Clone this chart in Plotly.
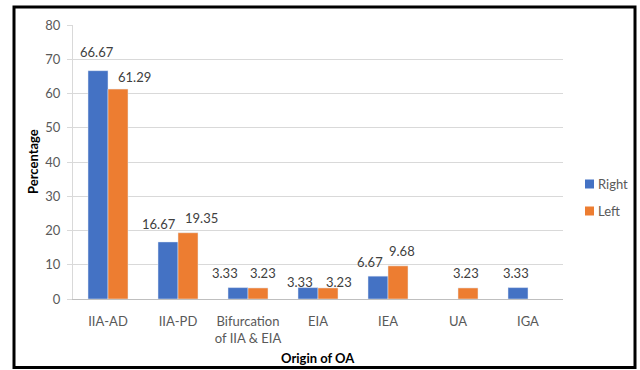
import plotly.graph_objects as go

# Origin of the obturator artery, percentage of specimens per side
categories = ["IIA-AD", "IIA-PD", "Bifurcation<br>of IIA & EIA", "EIA", "IEA", "UA", "IGA"]
right_pct = [66.67, 16.67, 3.33, 3.33, 6.67, None, 3.33]
left_pct = [61.29, 19.35, 3.23, 3.23, 9.68, 3.23, None]
y_ticks = [0, 10, 20, 30, 40, 50, 60, 70, 80]

BLUE = "#4472C4"
ORANGE = "#ED7D31"
TEXT = "#595959"
FONT = "Lato"

# layout geometry (pixels)
W, H = 640, 370
ML, MR, MT, MB = 73, 77, 25, 71
PW, PH = W - ML - MR, H - MT - MB


def px_x(p):
    return (p - ML) / PW


def px_y(p):
    return (MT + PH - p) / PH


# label nudges (pixels) so neighbouring value labels do not collide
right_nudge = [(-1, 19), (-9, 18), (-13, 15), (-8, 6), (-8, 14), (0, 15), (-2, 15)]
left_nudge = [(16, 12), (13, 15), (5, 15), (11, 6), (4, 15), (-2, 15), (0, 15)]

fig = go.Figure()
fig.add_trace(go.Bar(x=categories, y=right_pct, name="Right", marker_color=BLUE,
                     showlegend=False, offsetgroup="r"))
fig.add_trace(go.Bar(x=categories, y=left_pct, name="Left", marker_color=ORANGE,
                     showlegend=False, offsetgroup="l"))

annotations = []
slot = 20  # half-group width in px
for series, nudges, side in ((right_pct, right_nudge, -1), (left_pct, left_nudge, 1)):
    for i, v in enumerate(series):
        if v is None:
            continue
        dx, dy = nudges[i]
        annotations.append(dict(
            x=i, y=v, xref="x", yref="y", text=f"{v:.2f}", showarrow=False,
            xshift=side * slot / 2 + dx, yshift=dy, yanchor="middle",
            font=dict(family=FONT, size=13, color="#404040"),
        ))

# axis titles
annotations.append(dict(
    x=px_x(33), y=px_y(162), xref="paper", yref="paper", text="<b>Percentage</b>",
    textangle=-90, showarrow=False, xanchor="center", yanchor="middle",
    font=dict(family=FONT, size=13, color="#000000"),
))
annotations.append(dict(
    x=px_x(318), y=px_y(358), xref="paper", yref="paper", text="<b>Origin of OA</b>",
    showarrow=False, xanchor="center", yanchor="middle",
    font=dict(family=FONT, size=13, color="#000000"),
))

# legend entries
shapes = []
for name, color, cy in (("Right", BLUE, 184), ("Left", ORANGE, 211)):
    shapes.append(dict(type="rect", xref="paper", yref="paper",
                       x0=px_x(585), x1=px_x(594), y0=px_y(cy + 4.5), y1=px_y(cy - 4.5),
                       fillcolor=color, line=dict(width=0)))
    annotations.append(dict(x=px_x(596), y=px_y(cy), xref="paper", yref="paper",
                            text=name, showarrow=False, xanchor="left", yanchor="middle",
                            font=dict(family=FONT, size=13, color=TEXT)))

# outer frame
shapes.append(dict(type="rect", xref="paper", yref="paper",
                   x0=px_x(14), x1=px_x(635), y0=px_y(367.5), y1=px_y(7),
                   line=dict(color="#000000", width=3), fillcolor="rgba(0,0,0,0)"))

fig.update_layout(
    width=W, height=H,
    margin=dict(l=ML, r=MR, t=MT, b=MB),
    paper_bgcolor="white", plot_bgcolor="white",
    barmode="group", bargap=30 / 70, bargroupgap=0,
    font=dict(family=FONT, size=13, color=TEXT),
    annotations=annotations, shapes=shapes,
)
fig.update_xaxes(
    type="category", range=[-0.5, 6.5], showgrid=False,
    showline=True, linecolor="#BFBFBF", linewidth=1,
    ticks="", ticklabelstandoff=10, tickfont=dict(family=FONT, size=13, color=TEXT),
)
fig.update_yaxes(
    range=[0, 80], tickvals=y_ticks, showgrid=True, gridcolor="#D9D9D9", gridwidth=1,
    showline=True, linecolor="#D9D9D9", linewidth=1, zeroline=False,
    ticks="outside", ticklen=5, tickcolor="#D9D9D9", ticklabelstandoff=4,
    tickfont=dict(family=FONT, size=13, color=TEXT),
)

fig.write_html("out.html")
